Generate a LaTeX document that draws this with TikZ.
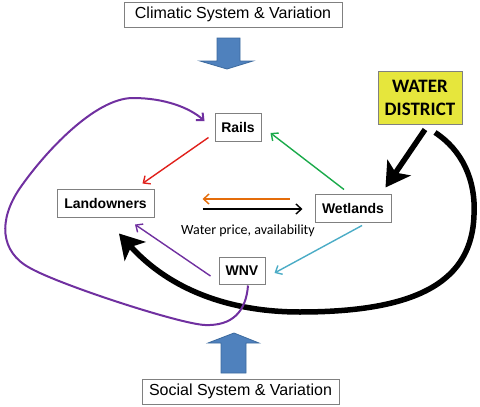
\documentclass[tikz,border=0pt]{standalone}
\usepackage{fontspec}
\setmainfont{Liberation Sans}
\newfontfamily\calib{Carlito}
\usetikzlibrary{arrows.meta,calc}
\definecolor{boxgray}{HTML}{808080}
\definecolor{wdyellow}{HTML}{E6E63C}
\definecolor{bluefill}{HTML}{4F81BD}
\definecolor{blueedge}{HTML}{3C6A9E}
\definecolor{cred}{HTML}{E0201B}
\definecolor{cgreen}{HTML}{1AAA4A}
\definecolor{corange}{HTML}{E46C0A}
\definecolor{ccyan}{HTML}{4BACC6}
\definecolor{cpurple}{HTML}{7030A0}
\tikzset{
  sysbox/.style={draw=boxgray, line width=1pt, fill=white, inner sep=0pt, font=\fontsize{16}{19}\selectfont},
  entbox/.style={draw=boxgray, line width=1pt, fill=white, inner sep=0pt, font=\fontsize{14}{17}\selectfont\bfseries},
  thinarrow/.style={line width=1.4pt, -{Straight Barb[length=5.5pt,width=10pt]}},
  thickarrow/.style={line width=5.5pt, -{Stealth[length=24pt,width=28pt,inset=6pt]}},
  bigarrow/.style={fill=bluefill, draw=blueedge, line width=0.8pt},
}
\begin{document}
\begin{tikzpicture}[x=1pt,y=-1pt]
\useasboundingbox (0,0) rectangle (480,407);

% system boxes
\node[sysbox, minimum width=218pt, minimum height=25pt] (clim) at (233,14.5) {Climatic System \& Variation};
\node[sysbox, minimum width=197pt, minimum height=25pt] (soc) at (240.5,391.5) {Social System \& Variation};

% entity boxes
\node[entbox, minimum width=46pt, minimum height=28pt] (rails) at (238,127) {Rails};
\node[entbox, minimum width=97pt, minimum height=28pt] (land) at (105.5,203) {Landowners};
\node[entbox, minimum width=76pt, minimum height=28pt] (wet) at (353,208) {Wetlands};
\node[entbox, minimum width=46pt, minimum height=27pt] (wnv) at (242,270.5) {WNV};
\node[draw=boxgray, line width=1pt, fill=wdyellow, inner sep=0pt, minimum width=84pt, minimum height=53pt,
      align=center, font=\calib\bfseries\fontsize{19}{23}\selectfont] (wd) at (420,97.5) {WATER\\DISTRICT};

% blue block arrows
\draw[bigarrow] (217,38) -- (240,38) -- (240,61) -- (253,61) -- (227,69) -- (200,61) -- (217,61) -- cycle;
\draw[bigarrow] (221,373) -- (246,373) -- (246,343) -- (259,343) -- (234,333) -- (208,343) -- (221,343) -- cycle;

% thin coloured arrows
\draw[thinarrow, cred] ([shift={(-6,-4)}]rails.south west) -- ([shift={(-12,-5)}]land.north east);
\draw[thinarrow, cgreen] ([shift={(-9,-4)}]wet.north) -- ([shift={(9,6)}]rails.east);
\draw[thinarrow, corange] ([shift={(-25,-9)}]wet.west) -- ([shift={(48,-4)}]land.east);
\draw[thinarrow, black] ([shift={(48,6)}]land.east) -- ([shift={(-12,1)}]wet.west);
\draw[thinarrow, ccyan] ([shift={(9,3)}]wet.south) -- ([shift={(9,2.5)}]wnv.east);
\draw[thinarrow, cpurple] ([shift={(-8,5.5)}]wnv.west) -- ([shift={(29.5,7)}]land.south);

\node[font=\calib\fontsize{14}{17}\selectfont, inner sep=0pt] (lbl) at (248,231) {Water price, availability};

% water district arrows
\draw[thickarrow] ([shift={(5,5)}]wd.south) -- ([shift={(-6,-6)}]wet.north east);
\draw[thickarrow] ([shift={(15,8)}]wd.south)
  .. controls (462,150) and (476,180) .. (474,215)
  .. controls (472,280) and (420,312) .. (300,312)
  .. controls (230,312) and (170,290) .. ([shift={(13.5,16)}]land.south);

% purple loop
\draw[thinarrow, cpurple, line width=2pt] ([shift={(6,1)}]wnv.south)
  .. controls (246,312) and (232,326) .. (205,325)
  .. controls (180,324) and (60,285) .. (30,268)
  .. controls (0,252) and (-2,220) .. (20,188)
  .. controls (45,152) and (95,98) .. (133,98)
  .. controls (165,98) and (190,108) .. ([shift={(-10,-6)}]rails.west);
\end{tikzpicture}
\end{document}
